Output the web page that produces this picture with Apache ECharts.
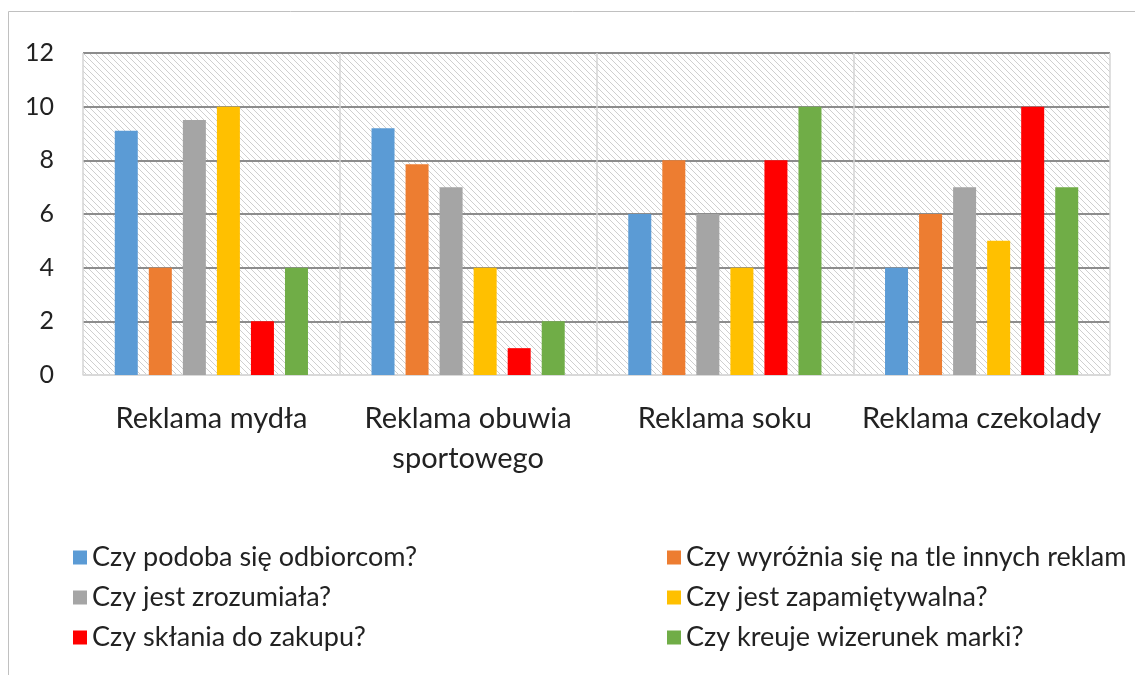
<!DOCTYPE html>
<html><head><meta charset="utf-8">
<script src="https://cdn.jsdelivr.net/npm/echarts@6/dist/echarts.min.js"></script>
<style>html,body{margin:0;padding:0;background:#fff}#c{width:1135px;height:675px}</style>
</head><body><div id="c"></div>
<script>
const categories = ['Reklama mydła', 'Reklama obuwia\nsportowego', 'Reklama soku', 'Reklama czekolady'];
const seriesNames = ['Czy podoba się odbiorcom?', 'Czy wyróżnia się na tle innych reklam', 'Czy jest zrozumiała?', 'Czy jest zapamiętywalna?', 'Czy skłania do zakupu?', 'Czy kreuje wizerunek marki?'];
const podoba = [9.1, 9.2, 6, 4];
const wyroznia = [4, 7.85, 8, 6];
const zrozumiala = [9.5, 7, 6, 7];
const zapamietywalna = [10, 4, 4, 5];
const sklania = [2, 1, 8, 10];
const kreuje = [4, 2, 10, 7];
const colors = ['#5B9BD5', '#ED7D31', '#A5A5A5', '#FFC000', '#FF0000', '#70AD47'];
const values = [podoba, wyroznia, zrozumiala, zapamietywalna, sklania, kreuje];

const pc = document.createElement('canvas');
pc.width = 6; pc.height = 6;
const g = pc.getContext('2d');
g.fillStyle = '#ffffff'; g.fillRect(0, 0, 6, 6);
g.strokeStyle = '#cfcfcf'; g.lineWidth = 1;
g.beginPath();
g.moveTo(-1, -1); g.lineTo(7, 7);
g.moveTo(-1, 5); g.lineTo(1, 7);
g.moveTo(5, -1); g.lineTo(7, 1);
g.stroke();

const font = 'Lato, sans-serif';
const chart = echarts.init(document.getElementById('c'), null, {renderer: 'canvas'});
chart.setOption({
  animation: false,
  backgroundColor: '#fff',
  textStyle: {fontFamily: font},
  graphic: [{type: 'rect', shape: {x: 8.5, y: 11.5, width: 1200, height: 800}, style: {fill: 'none', stroke: '#c0c0c0', lineWidth: 1}, z: -1}],
  grid: {left: 83, right: 25, top: 53, bottom: 300, show: true, backgroundColor: {image: pc, repeat: 'repeat'}, borderWidth: 0},
  legend: [
    {left: 68, top: 539, orient: 'vertical', itemGap: 13, itemWidth: 14, itemHeight: 14, icon: 'rect',
     textStyle: {fontSize: 27, color: '#222', fontFamily: font}, data: [seriesNames[0], seriesNames[2], seriesNames[4]]},
    {left: 662, top: 539, orient: 'vertical', itemGap: 13, itemWidth: 14, itemHeight: 14, icon: 'rect',
     textStyle: {fontSize: 27, color: '#222', fontFamily: font}, data: [seriesNames[1], seriesNames[3], seriesNames[5]]}
  ],
  xAxis: {
    type: 'category', data: categories,
    axisLine: {show: true, lineStyle: {color: '#d9d9d9', width: 1.5}},
    axisTick: {show: false},
    splitLine: {show: true, interval: 0, lineStyle: {color: '#d4d4d4', width: 1.5}},
    axisLabel: {interval: 0, fontSize: 29, color: '#222', lineHeight: 40, margin: 24, fontFamily: font}
  },
  yAxis: {
    type: 'value', min: 0, max: 12, interval: 2,
    axisLine: {show: false}, axisTick: {show: false},
    splitLine: {lineStyle: {color: ['#d9d9d9', '#8c8c8c', '#8c8c8c', '#8c8c8c', '#8c8c8c', '#8c8c8c', '#8c8c8c'], width: 2}},
    axisLabel: {fontSize: 25, color: '#222', margin: 29, fontFamily: font}
  },
  series: values.map((v, i) => ({
    name: seriesNames[i], type: 'bar', data: v, barWidth: 23, barGap: '48%',
    itemStyle: {color: colors[i]}
  }))
});
</script></body></html>
